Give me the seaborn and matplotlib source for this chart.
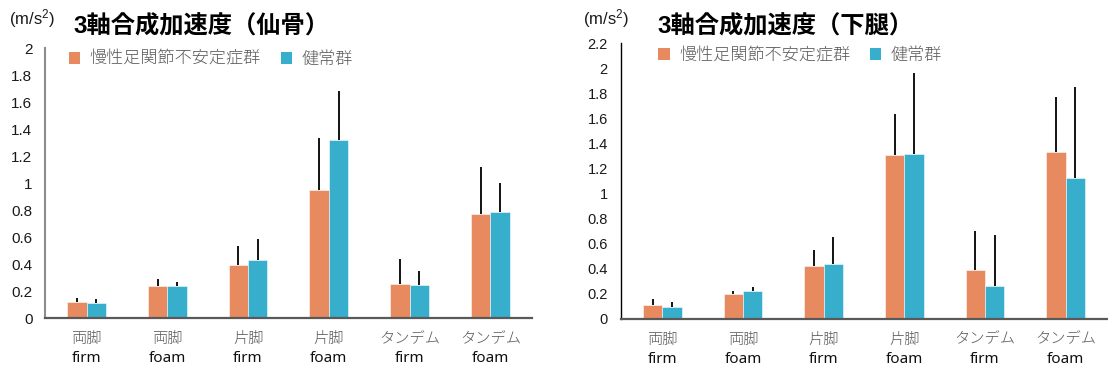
import numpy as np
import pandas as pd
import matplotlib
matplotlib.use("Agg")
import matplotlib.pyplot as plt
from matplotlib.patches import Patch
from matplotlib.ticker import FuncFormatter
import seaborn as sns

# ---- data -------------------------------------------------------------
stance = ["両脚", "両脚", "片脚", "片脚", "タンデム", "タンデム"]
surface = ["firm", "foam", "firm", "foam", "firm", "foam"]
groups = ["慢性足関節不安定症群", "健常群"]

# sacrum (仙骨): mean and SD
sacrum_cai = [0.12, 0.24, 0.39, 0.95, 0.25, 0.77]
sacrum_cai_sd = [0.025, 0.05, 0.14, 0.38, 0.185, 0.35]
sacrum_ctl = [0.11, 0.235, 0.43, 1.32, 0.245, 0.785]
sacrum_ctl_sd = [0.03, 0.03, 0.155, 0.36, 0.10, 0.215]

# lower leg (下腿): mean and SD
shank_cai = [0.11, 0.195, 0.42, 1.31, 0.385, 1.33]
shank_cai_sd = [0.045, 0.03, 0.13, 0.325, 0.315, 0.44]
shank_ctl = [0.09, 0.225, 0.435, 1.315, 0.265, 1.125]
shank_ctl_sd = [0.04, 0.03, 0.22, 0.645, 0.40, 0.725]

titles = ["3軸合成加速度（仙骨）", "3軸合成加速度（下腿）"]
unit = r"(m/s$^{2}$)"
ymax = [2.0, 2.2]

# ---- style ------------------------------------------------------------
sns.set_style("white")
plt.rcParams["font.family"] = ["Liberation Sans", "Noto Sans CJK JP", "DejaVu Sans"]
plt.rcParams["mathtext.default"] = "regular"

ORANGE = "#E88A5F"
BLUE = "#36AECC"
palette = {groups[0]: ORANGE, groups[1]: BLUE}
JP = ["Noto Sans CJK JP", "DejaVu Sans"]

conds = [f"{a} {b}" for a, b in zip(stance, surface)]


def long_frame(cai, ctl):
    return pd.DataFrame({
        "cond": conds * 2,
        "group": [groups[0]] * 6 + [groups[1]] * 6,
        "value": list(cai) + list(ctl),
    })


fig = plt.figure(figsize=(11.08, 3.70), dpi=100)
ax_l = fig.add_axes([0.0406, 0.1405, 0.4395, 0.7297])
ax_r = fig.add_axes([0.5605, 0.1386, 0.4386, 0.7450])

panels = [
    (ax_l, sacrum_cai, sacrum_cai_sd, sacrum_ctl, sacrum_ctl_sd),
    (ax_r, shank_cai, shank_cai_sd, shank_ctl, shank_ctl_sd),
]

for i, (ax, cai, cai_sd, ctl, ctl_sd) in enumerate(panels):
    df = long_frame(cai, ctl)
    sns.barplot(data=df, x="cond", y="value", hue="group", order=conds,
                hue_order=groups, palette=palette, width=0.48, gap=0,
                errorbar=None, legend=False, saturation=1,
                edgecolor=(1, 1, 1, 0.6), linewidth=0.6, ax=ax)

    # upper-only SD whiskers from each bar's top
    for cont, means, sds in zip(ax.containers, [cai, ctl], [cai_sd, ctl_sd]):
        xs = [p.get_x() + p.get_width() / 2 for p in cont.patches]
        ax.errorbar(xs, means, yerr=[np.zeros(len(sds)), sds], fmt="none",
                    ecolor="black", elinewidth=1.3, capsize=0, zorder=3)

    ax.set_ylim(0, ymax[i])
    ax.set_yticks(np.round(np.arange(0, ymax[i] + 0.001, 0.2), 1))
    ax.yaxis.set_major_formatter(FuncFormatter(lambda v, p: f"{v:g}"))
    ax.tick_params(axis="y", length=0, pad=9 if i == 0 else 9.5,
                   labelsize=11 if i == 0 else 10.5, labelcolor="#1a1a1a")
    ax.set_xlabel("")
    ax.set_ylabel("")

    # two-line category labels: stance (grey, CJK) and surface (black)
    ax.set_xticks(range(len(stance)))
    ax.set_xticklabels(stance, family=JP, fontsize=11, color="#595959",
                       fontweight="light")
    ax.tick_params(axis="x", length=0, pad=10)
    for x, s in zip(ax.get_xticks(), surface):
        ax.annotate(s, xy=(x, 0), xycoords=("data", "axes fraction"),
                    xytext=(0, -29.5), textcoords="offset points",
                    ha="center", va="center", fontsize=11,
                    family=["Noto Sans", "DejaVu Sans"], color="#111111")

    for side in ("top", "right"):
        ax.spines[side].set_visible(False)
    ax.spines["bottom"].set_color("#595959")
    ax.spines["bottom"].set_linewidth(1.6)
    if i == 0:
        ax.spines["left"].set_color("#8c8c8c")
        ax.spines["left"].set_linewidth(1.5)
    else:
        ax.spines["left"].set_color("#000000")
        ax.spines["left"].set_linewidth(1.0)

    handles = [Patch(facecolor=ORANGE, edgecolor="none"),
               Patch(facecolor=BLUE, edgecolor="none")]
    ax.legend(handles, groups, ncol=2, loc="upper left",
              bbox_to_anchor=(0.049, 0.99) if i == 0 else (0.076, 0.985),
              frameon=False, handlelength=0.68, handleheight=0.68,
              handletextpad=0.55, columnspacing=1.15, borderaxespad=0,
              borderpad=0, labelcolor="#595959",
              prop={"family": JP, "size": 12.3, "weight": "light"})

# titles and unit labels
fig.text(73 / 1108, 1 - 27 / 370, titles[0], fontsize=17.5, fontweight="bold",
         ha="left", va="center", color="black")
fig.text(657 / 1108, 1 - 27 / 370, titles[1], fontsize=17.5, fontweight="bold",
         ha="left", va="center", color="black")
fig.text(9 / 1108, 1 - 19 / 370, unit, fontsize=12, ha="left", va="center",
         color="#1a1a1a")
fig.text(583 / 1108, 1 - 19 / 370, unit, fontsize=12, ha="left", va="center",
         color="#1a1a1a")

fig.savefig("out.png", dpi=100)
